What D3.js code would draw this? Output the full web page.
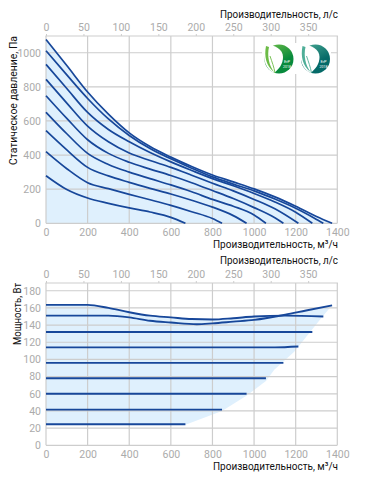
<!DOCTYPE html>
<html>
<head>
<meta charset="utf-8">
<script src="https://cdn.jsdelivr.net/npm/d3@7"></script>
<style>
body { margin: 0; background: #fff; }
svg { display: block; }
</style>
</head>
<body>
<div id="chart"></div>
<script>
// flow ticks
const flowTicks = [0, 200, 400, 600, 800, 1000, 1200, 1400];
const litreTicks = [0, 50, 100, 150, 200, 250, 300, 350];
const pressureTicks = [0, 200, 400, 600, 800, 1000];
const powerTicks = [0, 20, 40, 60, 80, 100, 120, 140, 160, 180];

// pressure curves, [flow, Pa]
const pressure1 = [[0,279],[100,198],[200,148],[300,117],[400,90],[500,66],[600,35],[670,0]];
const pressure2 = [[0,420],[100,320],[200,238],[300,203],[400,170],[500,138],[600,105],[700,68],[800,28],[846,0]];
const pressure3 = [[0,543],[100,430],[200,328],[300,278],[400,240],[500,205],[600,172],[700,135],[800,95],[900,45],[964,0]];
const pressure4 = [[0,651],[100,525],[200,410],[300,345],[400,300],[500,262],[600,225],[700,185],[800,140],[900,100],[1000,49],[1057,0]];
const pressure5 = [[0,748],[100,615],[200,490],[300,410],[400,358],[500,318],[600,280],[700,238],[800,192],[900,145],[1000,92],[1100,32],[1141,0]];
const pressure6 = [[0,844],[100,705],[200,570],[300,478],[400,412],[500,368],[600,328],[700,282],[800,235],[900,190],[1000,140],[1100,85],[1213,0]];
const pressure7 = [[0,932],[100,790],[200,650],[300,550],[400,478],[500,415],[600,360],[700,310],[800,262],[900,220],[1000,175],[1100,125],[1200,65],[1280,0]];
const pressure8 = [[0,1012],[100,870],[200,732],[300,612],[400,515],[500,438],[600,378],[700,323],[800,272],[900,230],[1000,190],[1100,142],[1200,88],[1290,30],[1333,0]];
const pressure9 = [[0,1078],[100,925],[200,770],[300,640],[400,530],[500,450],[600,388],[700,333],[800,283],[900,243],[1000,202],[1100,155],[1200,100],[1300,40],[1375,0]];
const pressureCurves = [pressure1, pressure2, pressure3, pressure4, pressure5, pressure6, pressure7, pressure8, pressure9];

// power curves, [flow, W]
const power1 = [[0,163.5],[100,163.5],[200,163.5],[300,160],[400,155],[500,151],[600,149],[700,147],[800,146.5],[900,148],[1000,150],[1150,151],[1333,150]];
const power2 = [[0,151],[200,151],[300,151],[400,149],[500,145],[600,143],[725,141],[800,142],[900,144],[1000,146],[1150,152],[1250,157],[1375,163]];
const power3 = [[0,132],[400,132],[800,132],[1280,132]];
const power4 = [[0,114],[400,114],[800,114],[1100,114],[1213,115]];
const power5 = [[0,96],[400,96],[800,96],[1141,96]];
const power6 = [[0,78],[400,78],[800,78],[1057,78]];
const power7 = [[0,60],[400,60],[800,60],[964,60]];
const power8 = [[0,41.5],[200,41.5],[500,41.5],[846,41.5]];
const power9 = [[0,24.5],[300,24.5],[670,24.5]];
const powerCurves = [power1, power2, power3, power4, power5, power6, power7, power8, power9];

// light blue zone under the power curves
const powerZone = [[0,163.5],[100,163.5],[200,163.5],[300,160],[400,155],[500,151],[600,149],[700,147],[800,146.5],[900,148],[1000,150],[1100,151],[1150,152],[1250,157],[1375,163],[1329,150],[1193,109],[1097,88],[1057,75],[965,58],[846,40],[670,24],[0,24]];

const svg = d3.select("#chart").append("svg")
    .attr("width", 374)
    .attr("height", 489);

const defs = svg.append("defs");
const gradGreen = defs.append("linearGradient").attr("id", "gGreen").attr("x1", 0.3).attr("y1", 0).attr("x2", 0.8).attr("y2", 1);
gradGreen.append("stop").attr("offset", "0").attr("stop-color", "#5cb545");
gradGreen.append("stop").attr("offset", "0.6").attr("stop-color", "#078a3c");
const gradTeal = defs.append("linearGradient").attr("id", "gTeal").attr("x1", 0.3).attr("y1", 0).attr("x2", 0.8).attr("y2", 1);
gradTeal.append("stop").attr("offset", "0").attr("stop-color", "#3f9f8c");
gradTeal.append("stop").attr("offset", "0.6").attr("stop-color", "#056a68");

const x = d3.scaleLinear().domain([0, 1400]).range([46, 337.3]);
const xTop = d3.scaleLinear().domain([0, 1400 / 3.6]).range([46, 337.3]);
const yP = d3.scaleLinear().domain([0, 1100]).range([223.3, 35.7]);
const yW = d3.scaleLinear().domain([0, 189]).range([445.3, 283]);

const gridColor = "#cdcdcd";
const tickColor = "#ababab";
const lineColor = "#17479a";
const zoneColor = "#dff0fd";
const tickFont = "Roboto, sans-serif";
const labelFont = "Roboto, 'Noto Sans', sans-serif";

function drawPanel(y, yTicks, top, bottom, curves, zone, curveWidth, yTitle, yTitleLength, yTitleX, yTitleY, titleTopY, titleBottomY) {

    //zone under the curves
    svg.append("path")
        .attr("d", d3.line().x(d => x(d[0])).y(d => y(d[1])).curve(d3.curveLinear)(zone))
        .attr("fill", zoneColor);

    //grid
    svg.append("g").selectAll("line")
        .data(flowTicks)
        .enter().append("line")
        .attr("x1", d => x(d)).attr("x2", d => x(d))
        .attr("y1", top).attr("y2", bottom)
        .attr("stroke", gridColor).attr("stroke-width", 1.2);

    svg.append("g").selectAll("line")
        .data(yTicks)
        .enter().append("line")
        .attr("x1", x(0)).attr("x2", x(1400))
        .attr("y1", d => y(d)).attr("y2", d => y(d))
        .attr("stroke", gridColor).attr("stroke-width", 1.2);

    svg.append("line")
        .attr("x1", x(0) - 0.6).attr("x2", x(1400) + 0.6)
        .attr("y1", top).attr("y2", top)
        .attr("stroke", gridColor).attr("stroke-width", 1.2);

    //axes, labels only, the grid is the rule
    const axisLeft = svg.append("g")
        .attr("transform", "translate(46,0)")
        .call(d3.axisLeft(y).tickValues(yTicks).tickFormat(d3.format("d")).tickSize(0).tickPadding(5));
    const axisBottom = svg.append("g")
        .attr("transform", "translate(0," + bottom + ")")
        .call(d3.axisBottom(x).tickValues(flowTicks).tickFormat(d3.format("d")).tickSize(0).tickPadding(5));
    const axisTop = svg.append("g")
        .attr("transform", "translate(0," + top + ")")
        .call(d3.axisTop(xTop).tickValues(litreTicks).tickFormat(d3.format("d")).tickSize(2).tickPadding(3));

    [axisLeft, axisBottom, axisTop].forEach(a => {
        a.select(".domain").remove();
        a.selectAll("text").attr("fill", tickColor).style("font-family", tickFont).style("font-size", "10.5px");
        a.selectAll("line").attr("stroke", gridColor);
    });

    //curves
    svg.append("g").selectAll("path")
        .data(curves)
        .enter().append("path")
        .attr("d", d3.line().x(d => x(d[0])).y(d => y(d[1])).curve(d3.curveMonotoneX))
        .attr("fill", "none")
        .attr("stroke", lineColor)
        .attr("stroke-width", curveWidth);

    //titles, squeezed to the width they have in the picture
    svg.append("text")
        .attr("x", 338).attr("y", titleTopY)
        .attr("text-anchor", "end")
        .attr("textLength", 118).attr("lengthAdjust", "spacingAndGlyphs")
        .style("font-family", labelFont).style("font-size", "11px").attr("fill", "#111")
        .text("Производительность, л/с");
    svg.append("text")
        .attr("x", 338).attr("y", titleBottomY)
        .attr("text-anchor", "end")
        .attr("textLength", 125).attr("lengthAdjust", "spacingAndGlyphs")
        .style("font-family", labelFont).style("font-size", "11px").attr("fill", "#111")
        .text("Производительность, м³/ч");
    svg.append("text")
        .attr("transform", "translate(" + yTitleX + "," + yTitleY + ") rotate(-90)")
        .attr("text-anchor", "end")
        .attr("textLength", yTitleLength).attr("lengthAdjust", "spacingAndGlyphs")
        .style("font-family", labelFont).style("font-size", "11px").attr("fill", "#111")
        .text(yTitle);
}

drawPanel(yP, pressureTicks, 36, 223.3, pressureCurves,
    [[0,0]].concat(pressure9, [[0,0]]), 1.7,
    "Статическое давление, Па", 129, 17, 36, 18, 248);

drawPanel(yW, powerTicks, 283, 445.3, powerCurves, powerZone, 1.9,
    "Мощность, Вт", 62, 21, 283, 264, 470);

//ErP badges
const badgeCentres = [[279, 59, "url(#gGreen)", "#6cbb46"], [315.5, 59, "url(#gTeal)", "#4fae98"]];

svg.append("rect")
    .attr("x", 262).attr("y", 43).attr("width", 69).attr("height", 31).attr("fill", "#fff");

badgeCentres.forEach(b => {
    const g = svg.append("g").attr("transform", "translate(" + b[0] + "," + b[1] + ")");
    g.append("circle").attr("r", 14.5).attr("fill", b[2]);
    //leaf, white inside with a coloured rim on the left
    g.append("path")
        .attr("d", "M-14,-15 C-4,-14 4,-10 4,-2 C4,5 0,10 -5,14 C-13,10 -17,2 -14,-15 Z")
        .attr("fill", "#fff");
    g.append("path")
        .attr("d", "M-13,-13 C-15,-3 -13,7 -5,13 C-10,6 -12,-3 -10,-12 Z")
        .attr("fill", b[3]);
    g.append("path")
        .attr("d", "M-9,-3 C-7,3 -5,8 -4,14")
        .attr("stroke", b[3]).attr("stroke-width", 0.9).attr("fill", "none");
    g.append("text").attr("x", 8).attr("y", 4).attr("text-anchor", "middle")
        .style("font-family", labelFont).style("font-size", "4px").attr("fill", "#fff").text("ErP");
    g.append("text").attr("x", 8).attr("y", 9).attr("text-anchor", "middle")
        .style("font-family", labelFont).style("font-size", "3.5px").attr("fill", "#fff").text("2018");
});
</script>
</body>
</html>
